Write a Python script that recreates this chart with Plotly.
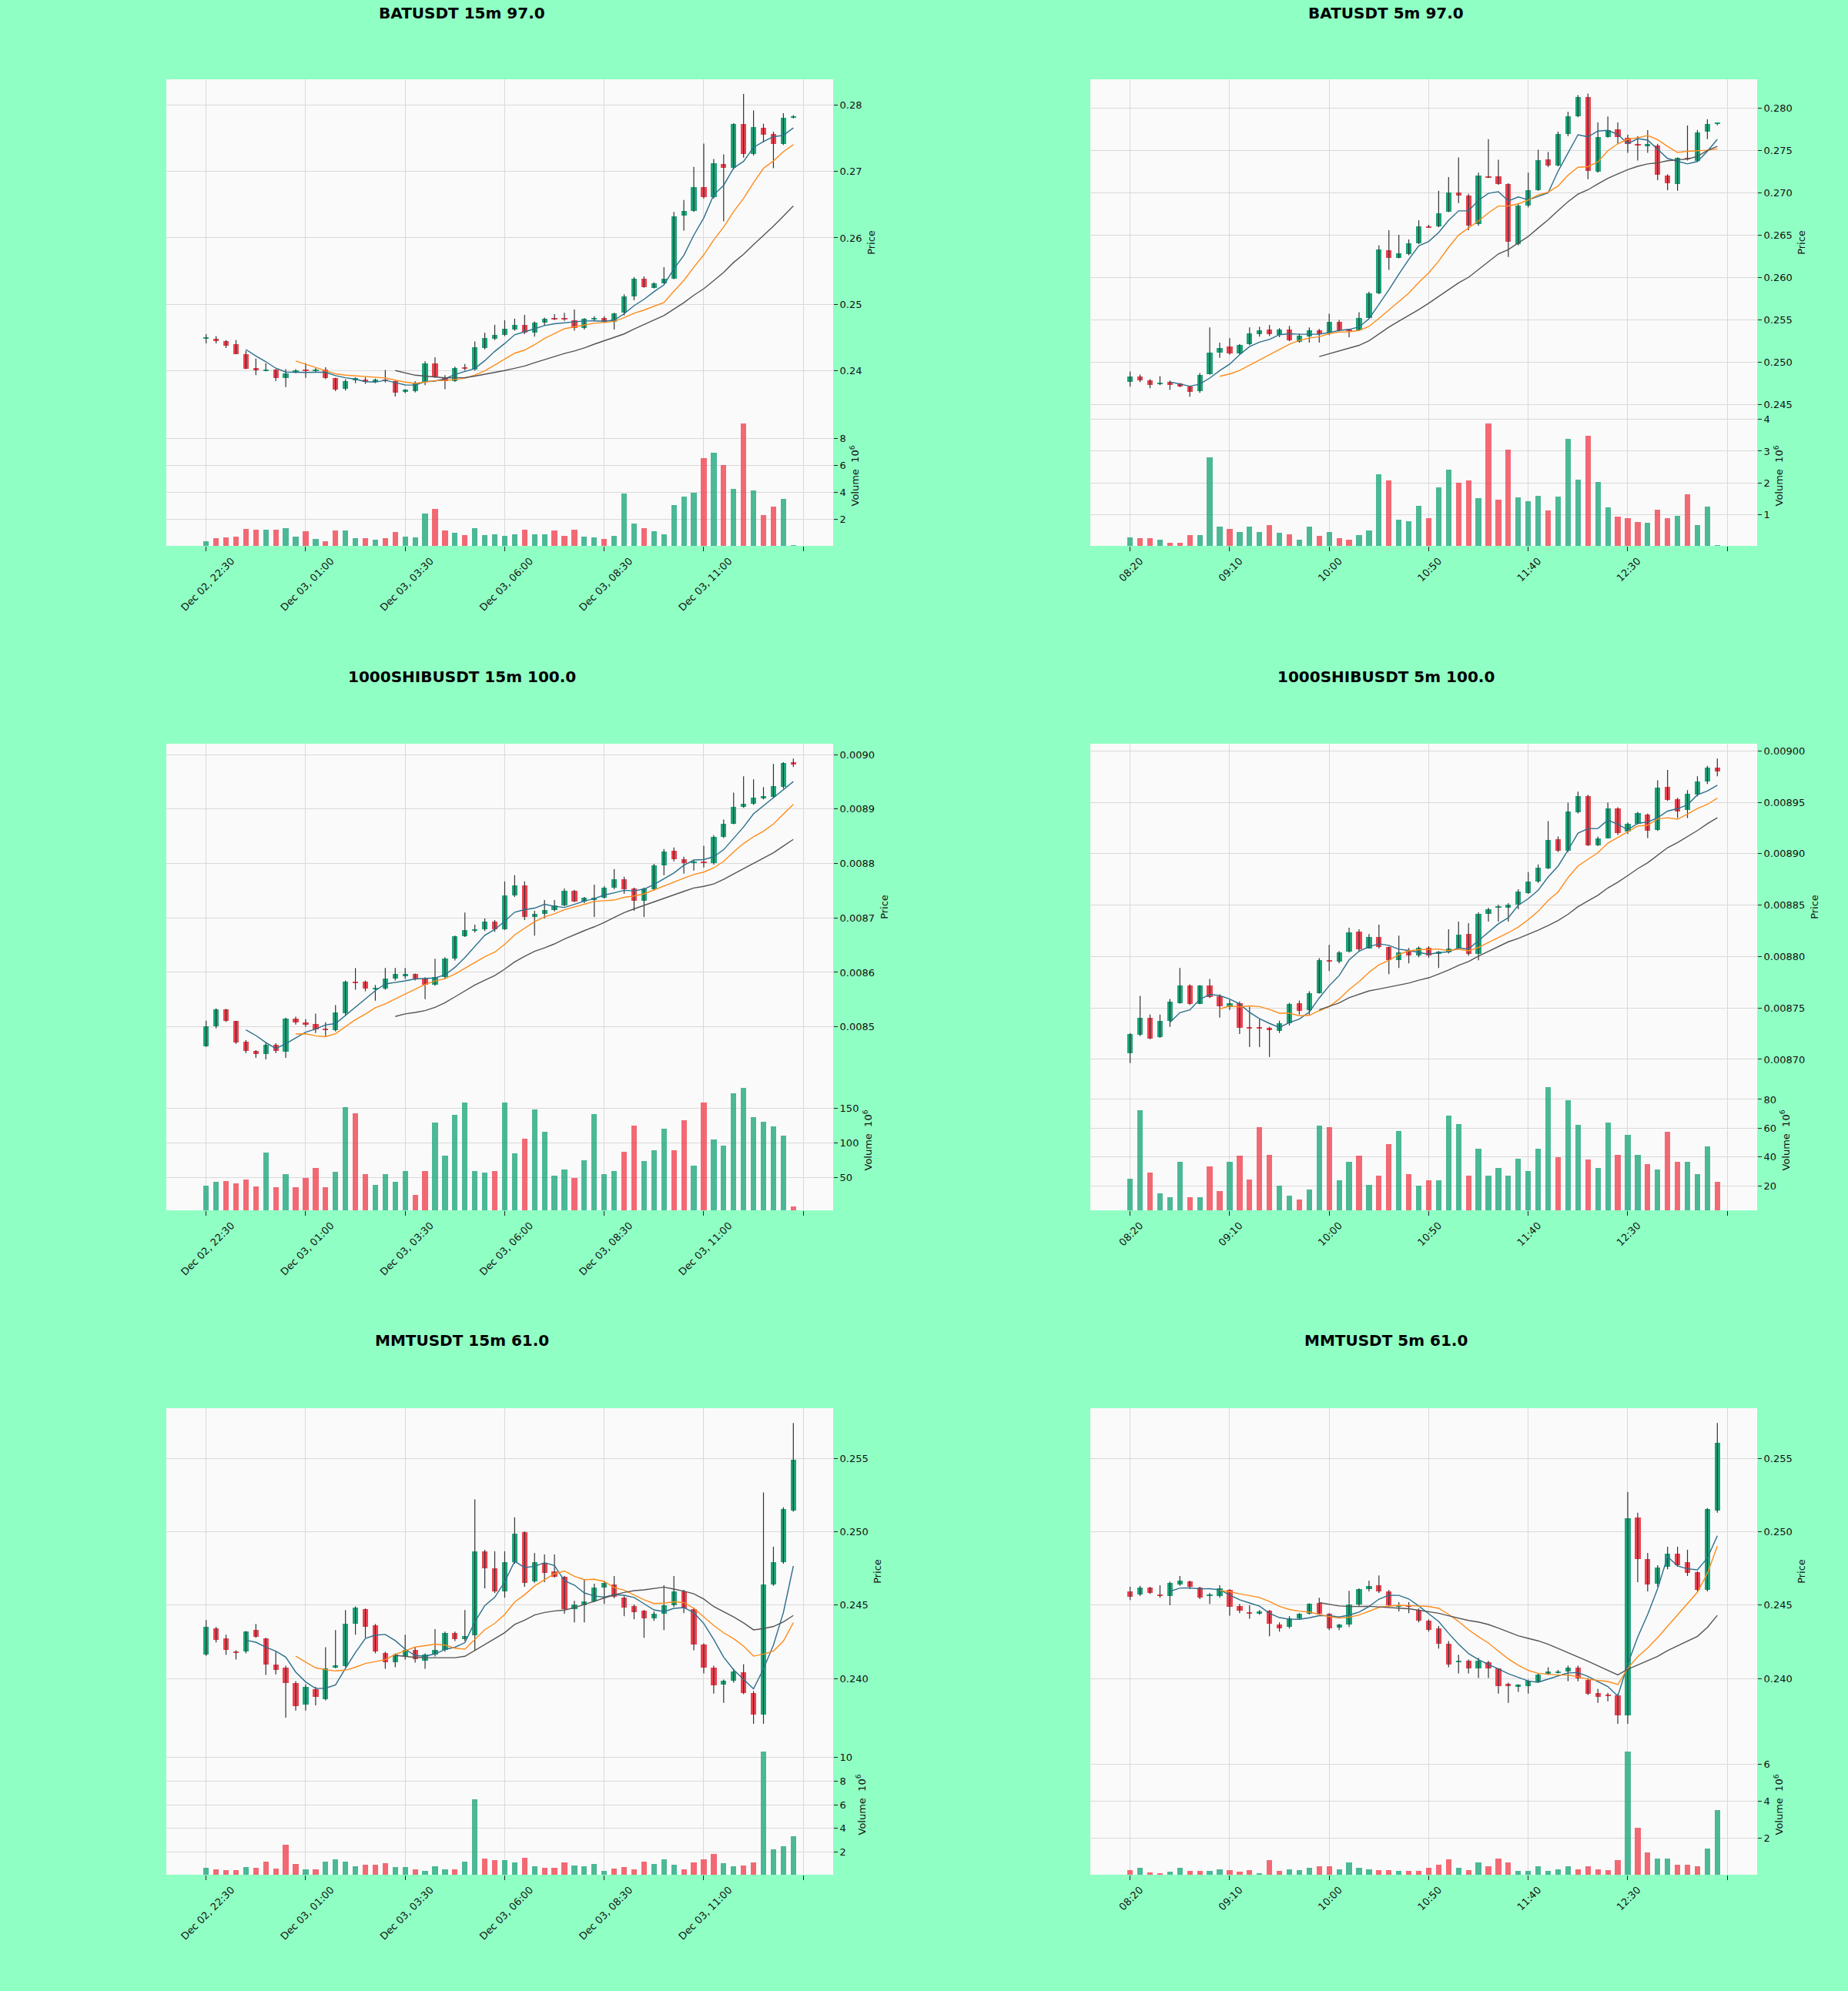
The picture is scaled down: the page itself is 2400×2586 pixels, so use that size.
import pandas as pd
import plotly.graph_objects as go

# ---------------- data (60 candles per chart) ----------------
labels_15m = ["Dec 02, 22:30", "Dec 03, 01:00", "Dec 03, 03:30", "Dec 03, 06:00",
              "Dec 03, 08:30", "Dec 03, 11:00"]
labels_5m = ["08:20", "09:10", "10:00", "10:50", "11:40", "12:30"]
label_pos = [0, 10, 20, 30, 40, 50]
end_tick = [60]  # unlabeled last tick

# BATUSDT 15m
bat15_open = [0.2448, 0.2448, 0.2444, 0.2440, 0.2425, 0.2404, 0.2400, 0.2401, 0.2389, 0.2399,
              0.2401, 0.2400, 0.2402, 0.2389, 0.2372, 0.2385, 0.2387, 0.2383, 0.2386, 0.2384,
              0.2369, 0.2369, 0.2383, 0.2411, 0.2390, 0.2384, 0.2405, 0.2401, 0.2434, 0.2448,
              0.2454, 0.2462, 0.2469, 0.2457, 0.2472, 0.2479, 0.2478, 0.2476, 0.2464, 0.2478,
              0.2479, 0.2474, 0.2487, 0.2512, 0.2539, 0.2525, 0.2532, 0.2539, 0.2634, 0.2641,
              0.2677, 0.2661, 0.2711, 0.2705, 0.2772, 0.2726, 0.2766, 0.2757, 0.2742, 0.2782]
bat15_close = [0.24485, 0.2444, 0.2438, 0.2425, 0.2403, 0.2400, 0.2401, 0.2389, 0.2396, 0.2400,
               0.2400, 0.2402, 0.2389, 0.2371, 0.2384, 0.2389, 0.2383, 0.2386, 0.2385, 0.2367,
               0.2371, 0.2382, 0.2411, 0.2390, 0.2384, 0.2404, 0.2403, 0.2435, 0.2449, 0.2454,
               0.2463, 0.2469, 0.2457, 0.2472, 0.2478, 0.2477, 0.2477, 0.2464, 0.2478, 0.24785,
               0.2474, 0.2486, 0.2512, 0.2539, 0.2526, 0.2531, 0.2538, 0.2633, 0.2641, 0.2677,
               0.2661, 0.2712, 0.2705, 0.2772, 0.2726, 0.2767, 0.2756, 0.2742, 0.2781, 0.2783]
bat15_high = [0.2455, 0.2452, 0.2446, 0.2446, 0.2430, 0.2418, 0.2411, 0.2402, 0.2402, 0.2402,
              0.2411, 0.2404, 0.2405, 0.2389, 0.2387, 0.2390, 0.2390, 0.2388, 0.2401, 0.2385,
              0.2372, 0.2384, 0.2414, 0.2420, 0.2393, 0.2406, 0.2410, 0.2444, 0.2457, 0.2469,
              0.2476, 0.2478, 0.2484, 0.2474, 0.2480, 0.2485, 0.2487, 0.2492, 0.2479, 0.2482,
              0.2482, 0.2487, 0.2515, 0.2541, 0.2542, 0.2533, 0.2556, 0.2639, 0.2657, 0.2707,
              0.2742, 0.2719, 0.2726, 0.2773, 0.2817, 0.2792, 0.2772, 0.2760, 0.2788, 0.2785]
bat15_low = [0.2441, 0.2441, 0.2434, 0.2425, 0.2402, 0.2393, 0.2399, 0.2384, 0.2375, 0.2396,
             0.2389, 0.2398, 0.2387, 0.2369, 0.2370, 0.2381, 0.2380, 0.2381, 0.2382, 0.2361,
             0.2366, 0.2367, 0.2378, 0.2389, 0.2372, 0.2383, 0.2400, 0.2400, 0.2432, 0.2446,
             0.2452, 0.2460, 0.2455, 0.2451, 0.2468, 0.2476, 0.2475, 0.2460, 0.2462, 0.2475,
             0.2472, 0.2462, 0.2483, 0.2506, 0.2525, 0.2524, 0.2531, 0.2538, 0.2611, 0.2639,
             0.2659, 0.2659, 0.2625, 0.2703, 0.2721, 0.2724, 0.2744, 0.2705, 0.2740, 0.2780]
bat15_vol = [0.36, 0.60, 0.64, 0.70, 1.28, 1.20, 1.20, 1.20, 1.35, 0.70,
             1.10, 0.52, 0.36, 1.16, 1.16, 0.60, 0.60, 0.48, 0.60, 1.05,
             0.70, 0.66, 2.42, 2.76, 1.16, 0.98, 0.82, 1.35, 0.82, 0.89,
             0.75, 0.89, 1.20, 0.89, 0.89, 1.16, 0.75, 1.20, 0.70, 0.66,
             0.55, 0.75, 3.90, 1.69, 1.35, 1.12, 0.89, 3.03, 3.67, 3.95,
             6.52, 6.90, 6.00, 4.24, 9.10, 4.13, 2.30, 2.94, 3.49, 0.07]

# BATUSDT 5m
bat5_open = [0.24775, 0.24839, 0.24786, 0.24750, 0.24768, 0.24750, 0.24714, 0.24660, 0.24864, 0.25118,
             0.25190, 0.25108, 0.25215, 0.25333, 0.25387, 0.25322, 0.25387, 0.25244, 0.25305, 0.25383,
             0.25340, 0.25483, 0.25387, 0.25383, 0.25526, 0.25813, 0.26325, 0.26235, 0.26278, 0.26407,
             0.26604, 0.26604, 0.26779, 0.27004, 0.26969, 0.26629, 0.27194, 0.27194, 0.27101, 0.26396,
             0.26844, 0.27030, 0.27391, 0.27316, 0.27695, 0.27899, 0.28125, 0.27244, 0.27659, 0.27749,
             0.27648, 0.27577, 0.27549, 0.27559, 0.27201, 0.27101, 0.27409, 0.27373, 0.27720, 0.27810]
bat5_close = [0.24839, 0.24786, 0.24732, 0.24764, 0.24732, 0.24721, 0.24653, 0.24857, 0.25118, 0.25168,
              0.25108, 0.25204, 0.25340, 0.25376, 0.25330, 0.25387, 0.25258, 0.25312, 0.25383, 0.25330,
              0.25483, 0.25376, 0.25376, 0.25526, 0.25813, 0.26332, 0.26235, 0.26289, 0.26407, 0.26604,
              0.26593, 0.26761, 0.27004, 0.26969, 0.26611, 0.27201, 0.27180, 0.27101, 0.26421, 0.26844,
              0.27033, 0.27380, 0.27316, 0.27695, 0.27899, 0.28125, 0.27255, 0.27659, 0.27738, 0.27659,
              0.27577, 0.27552, 0.27570, 0.27208, 0.27112, 0.27409, 0.27398, 0.27710, 0.27810, 0.27814]
bat5_high = [0.24893, 0.24857, 0.24803, 0.24839, 0.24786, 0.24757, 0.24725, 0.24875, 0.25412, 0.25233,
             0.25287, 0.25215, 0.25412, 0.25419, 0.25441, 0.25405, 0.25430, 0.25340, 0.25412, 0.25394,
             0.25573, 0.25501, 0.25394, 0.25591, 0.25834, 0.26378, 0.26557, 0.26503, 0.26450, 0.26675,
             0.26622, 0.27022, 0.27183, 0.27416, 0.26987, 0.27237, 0.27631, 0.27387, 0.27112, 0.26879,
             0.27237, 0.27505, 0.27480, 0.27720, 0.27953, 0.28150, 0.28168, 0.27828, 0.27899, 0.27828,
             0.27684, 0.27666, 0.27738, 0.27577, 0.27219, 0.27416, 0.27792, 0.27738, 0.27864, 0.27817]
bat5_low = [0.24714, 0.24768, 0.24696, 0.24732, 0.24678, 0.24710, 0.24596, 0.24642, 0.24857, 0.25054,
            0.25090, 0.25097, 0.25204, 0.25305, 0.25312, 0.25298, 0.25251, 0.25233, 0.25233, 0.25233,
            0.25322, 0.25365, 0.25298, 0.25369, 0.25519, 0.25806, 0.26092, 0.26228, 0.26264, 0.26396,
            0.26586, 0.26593, 0.26772, 0.26879, 0.26557, 0.26611, 0.27173, 0.27094, 0.26242, 0.26378,
            0.26826, 0.27022, 0.27302, 0.27309, 0.27666, 0.27889, 0.27158, 0.27237, 0.27648, 0.27577,
            0.27469, 0.27380, 0.27469, 0.27147, 0.27030, 0.27022, 0.27380, 0.27362, 0.27631, 0.27795]
bat5_vol = [0.28, 0.25, 0.25, 0.20, 0.12, 0.12, 0.35, 0.35, 2.80, 0.63,
            0.54, 0.46, 0.63, 0.46, 0.66, 0.42, 0.37, 0.20, 0.62, 0.32,
            0.46, 0.25, 0.20, 0.35, 0.49, 2.27, 2.08, 0.85, 0.78, 1.28,
            0.88, 1.87, 2.41, 2.00, 2.08, 1.53, 3.88, 1.48, 3.04, 1.55,
            1.42, 1.60, 1.12, 1.57, 3.38, 2.10, 3.49, 2.03, 1.24, 0.94,
            0.88, 0.76, 0.75, 1.16, 0.90, 0.95, 1.64, 0.68, 1.26, 0.05]

# 1000SHIBUSDT 15m
shib15_open = [0.0084647, 0.0085017, 0.0085324, 0.0085102, 0.0084727, 0.0084556, 0.0084505, 0.0084676, 0.0084550, 0.0085153,
               0.0085085, 0.0085056, 0.0084960, 0.0084943, 0.0085256, 0.0085835, 0.0085835, 0.0085700, 0.0085709, 0.0085880,
               0.0085926, 0.0085966, 0.0085880, 0.0085767, 0.0085909, 0.0086250, 0.0086659, 0.0086760, 0.0086790, 0.0086932,
               0.0086790, 0.0087415, 0.0087602, 0.0087017, 0.0087074, 0.0087142, 0.0087233, 0.0087500, 0.0087300, 0.0087335,
               0.0087369, 0.0087557, 0.0087710, 0.0087540, 0.0087312, 0.0087528, 0.0087971, 0.0088238, 0.0088085, 0.0088020,
               0.0088015, 0.0088010, 0.0088483, 0.0088733, 0.0089034, 0.0089090, 0.0089209, 0.0089222, 0.0089403, 0.0089858]
shib15_close = [0.0085017, 0.0085324, 0.0085102, 0.0084716, 0.0084556, 0.0084505, 0.0084676, 0.0084556, 0.0085153, 0.0085085,
                0.0085040, 0.0084960, 0.0084943, 0.0085267, 0.0085835, 0.0085812, 0.0085698, 0.0085710, 0.0085880, 0.0085966,
                0.0085966, 0.0085880, 0.0085767, 0.0085909, 0.0086250, 0.0086659, 0.0086772, 0.0086790, 0.0086932, 0.0086790,
                0.0087415, 0.0087602, 0.0087017, 0.0087074, 0.0087142, 0.0087233, 0.0087500, 0.0087300, 0.0087369, 0.0087375,
                0.0087557, 0.0087710, 0.0087528, 0.0087312, 0.0087540, 0.0087971, 0.0088221, 0.0088085, 0.0088011, 0.0088030,
                0.0088010, 0.0088483, 0.0088733, 0.0089034, 0.0089090, 0.0089216, 0.0089233, 0.0089415, 0.0089846, 0.0089812]
shib15_high = [0.0085113, 0.0085340, 0.0085330, 0.0085110, 0.0084755, 0.0084570, 0.0084716, 0.0084698, 0.0085170, 0.0085187,
               0.0085140, 0.0085244, 0.0085085, 0.0085397, 0.0085850, 0.0086079, 0.0085850, 0.0085770, 0.0086080, 0.0086080,
               0.0086080, 0.0085980, 0.0085910, 0.0086250, 0.0086278, 0.0086676, 0.0087100, 0.0086875, 0.0086989, 0.0086960,
               0.0087670, 0.0087784, 0.0087670, 0.0087130, 0.0087330, 0.0087330, 0.0087540, 0.0087517, 0.0087386, 0.0087613,
               0.0087585, 0.0087898, 0.0087755, 0.0087557, 0.0087557, 0.0087994, 0.0088267, 0.0088295, 0.0088125, 0.0088068,
               0.0088324, 0.0088520, 0.0088807, 0.0089301, 0.0089602, 0.0089545, 0.0089403, 0.0089829, 0.0089858, 0.0089926]
shib15_low = [0.0084630, 0.0084970, 0.0085090, 0.0084687, 0.0084517, 0.0084430, 0.0084403, 0.0084517, 0.0084430, 0.0085040,
              0.0085000, 0.0084886, 0.0084830, 0.0084915, 0.0085200, 0.0085682, 0.0085653, 0.0085480, 0.0085680, 0.0085852,
              0.0085880, 0.0085850, 0.0085510, 0.0085755, 0.0085880, 0.0086220, 0.0086650, 0.0086733, 0.0086760, 0.0086744,
              0.0086778, 0.0087386, 0.0086960, 0.0086676, 0.0086989, 0.0087119, 0.0087216, 0.0087290, 0.0087273, 0.0087017,
              0.0087358, 0.0087528, 0.0087443, 0.0087130, 0.0087017, 0.0087500, 0.0087784, 0.0088039, 0.0087812, 0.0087870,
              0.0087926, 0.0087980, 0.0088466, 0.0088721, 0.0089023, 0.0089074, 0.0089176, 0.0089204, 0.0089375, 0.0089773]
shib15_vol = [39, 44, 45, 42, 47, 37, 86, 36, 55, 36,
              49, 64, 36, 58, 152, 143, 55, 40, 55, 44,
              60, 25, 60, 129, 82, 140, 158, 60, 57, 60,
              158, 85, 106, 148, 116, 53, 62, 49, 75, 142,
              55, 60, 87, 125, 74, 89, 121, 89, 133, 67,
              158, 105, 96, 172, 179, 137, 131, 124, 111, 9]

# 1000SHIBUSDT 5m
shib5_open = [0.0087060, 0.0087240, 0.0087406, 0.0087220, 0.0087376, 0.0087548, 0.0087716, 0.0087542, 0.0087716, 0.0087617,
              0.0087510, 0.0087550, 0.0087310, 0.0087307, 0.0087307, 0.0087277, 0.0087355, 0.0087548, 0.0087481, 0.0087647,
              0.0087969, 0.0087948, 0.0088047, 0.0088240, 0.0088077, 0.0088189, 0.0088090, 0.0087963, 0.0088062, 0.0088008,
              0.0088083, 0.0088029, 0.0088038, 0.0088077, 0.0088219, 0.0088023, 0.0088414, 0.0088481, 0.0088475, 0.0088505,
              0.0088619, 0.0088730, 0.0088860, 0.0089142, 0.0089031, 0.0089401, 0.0089558, 0.0089082, 0.0089152, 0.0089437,
              0.0089212, 0.0089293, 0.0089383, 0.0089227, 0.0089648, 0.0089528, 0.0089422, 0.0089573, 0.0089702, 0.0089835]
shib5_close = [0.0087247, 0.0087406, 0.0087205, 0.0087376, 0.0087563, 0.0087722, 0.0087542, 0.0087716, 0.0087608, 0.0087518,
               0.0087548, 0.0087307, 0.0087304, 0.0087304, 0.0087286, 0.0087355, 0.0087542, 0.0087472, 0.0087647, 0.0087969,
               0.0087948, 0.0088038, 0.0088234, 0.0088068, 0.0088189, 0.0088090, 0.0087963, 0.0088044, 0.0088008, 0.0088083,
               0.0088008, 0.0088047, 0.0088077, 0.0088209, 0.0088023, 0.0088414, 0.0088459, 0.0088487, 0.0088505, 0.0088631,
               0.0088730, 0.0088866, 0.0089137, 0.0089031, 0.0089407, 0.0089558, 0.0089082, 0.0089152, 0.0089437, 0.0089197,
               0.0089293, 0.0089392, 0.0089221, 0.0089642, 0.0089522, 0.0089413, 0.0089579, 0.0089702, 0.0089835, 0.0089798]
shib5_high = [0.0087256, 0.0087617, 0.0087436, 0.0087436, 0.0087587, 0.0087888, 0.0087730, 0.0087722, 0.0087782, 0.0087632,
              0.0087580, 0.0087563, 0.0087511, 0.0087390, 0.0087316, 0.0087376, 0.0087550, 0.0087572, 0.0087662, 0.0087984,
              0.0088113, 0.0088053, 0.0088279, 0.0088264, 0.0088219, 0.0088309, 0.0088098, 0.0088204, 0.0088083, 0.0088098,
              0.0088100, 0.0088053, 0.0088264, 0.0088339, 0.0088324, 0.0088429, 0.0088475, 0.0088505, 0.0088520, 0.0088655,
              0.0088820, 0.0088896, 0.0089317, 0.0089167, 0.0089497, 0.0089603, 0.0089573, 0.0089167, 0.0089497, 0.0089452,
              0.0089303, 0.0089407, 0.0089392, 0.0089714, 0.0089814, 0.0089543, 0.0089618, 0.0089753, 0.0089853, 0.0089925]
shib5_low = [0.0086964, 0.0087226, 0.0087196, 0.0087210, 0.0087316, 0.0087542, 0.0087530, 0.0087536, 0.0087596, 0.0087406,
             0.0087480, 0.0087247, 0.0087120, 0.0087120, 0.0087024, 0.0087256, 0.0087330, 0.0087436, 0.0087436, 0.0087640,
             0.0087858, 0.0087933, 0.0088038, 0.0088053, 0.0088077, 0.0088077, 0.0087828, 0.0087888, 0.0087933, 0.0087993,
             0.0087990, 0.0087888, 0.0088030, 0.0088068, 0.0088008, 0.0087963, 0.0088339, 0.0088339, 0.0088340, 0.0088460,
             0.0088610, 0.0088716, 0.0088851, 0.0089016, 0.0089016, 0.0089392, 0.0089076, 0.0089076, 0.0089152, 0.0089182,
             0.0089191, 0.0089287, 0.0089152, 0.0089221, 0.0089513, 0.0089347, 0.0089347, 0.0089558, 0.0089678, 0.0089753]
shib5_vol = [24.8, 72.5, 29.0, 14.5, 12.3, 36.8, 12.3, 12.3, 33.5, 16.6,
             36.8, 40.7, 24.3, 60.9, 41.6, 19.9, 13.1, 10.5, 17.5, 62.0,
             60.5, 23.7, 36.8, 40.7, 20.8, 26.9, 48.9, 58.3, 28.0, 19.9,
             23.7, 23.7, 68.6, 63.1, 26.9, 45.6, 26.9, 32.4, 26.9, 39.0,
             30.2, 45.6, 88.3, 40.1, 79.5, 62.4, 38.3, 32.4, 63.7, 41.6,
             55.4, 41.6, 35.3, 31.3, 57.6, 36.8, 36.8, 28.0, 47.3, 22.6]

# MMTUSDT 15m
mmt15_open = [0.24162, 0.24341, 0.24273, 0.24187, 0.24183, 0.24330, 0.24273, 0.24098, 0.24077, 0.23972,
              0.23824, 0.23930, 0.23860, 0.24075, 0.24084, 0.24372, 0.24473, 0.24362, 0.24172, 0.24109,
              0.24155, 0.24197, 0.24120, 0.24162, 0.24193, 0.24309, 0.24267, 0.24294, 0.24868, 0.24752,
              0.24594, 0.24794, 0.25000, 0.24661, 0.24787, 0.24731, 0.24695, 0.24471, 0.24499, 0.24526,
              0.24619, 0.24640, 0.24551, 0.24492, 0.24461, 0.24408, 0.24442, 0.24499, 0.24594, 0.24471,
              0.24231, 0.24077, 0.23961, 0.23987, 0.24042, 0.23903, 0.23755, 0.24640, 0.24794, 0.25146]
mmt15_close = [0.24351, 0.24263, 0.24197, 0.24176, 0.24320, 0.24282, 0.24098, 0.24060, 0.23972, 0.23810,
               0.23945, 0.23873, 0.24071, 0.24088, 0.24372, 0.24484, 0.24351, 0.24187, 0.24109, 0.24162,
               0.24193, 0.24134, 0.24162, 0.24193, 0.24309, 0.24271, 0.24288, 0.24868, 0.24752, 0.24594,
               0.24794, 0.24990, 0.24653, 0.24794, 0.24720, 0.24695, 0.24471, 0.24505, 0.24526, 0.24619,
               0.24653, 0.24556, 0.24484, 0.24450, 0.24408, 0.24442, 0.24499, 0.24594, 0.24478, 0.24231,
               0.24077, 0.23955, 0.23987, 0.24050, 0.23903, 0.23755, 0.24640, 0.24794, 0.25158, 0.25489]
mmt15_high = [0.24398, 0.24351, 0.24299, 0.24193, 0.24324, 0.24372, 0.24278, 0.24183, 0.24088, 0.23983,
              0.23961, 0.23945, 0.24214, 0.24330, 0.24467, 0.24492, 0.24478, 0.24372, 0.24183, 0.24172,
              0.24299, 0.24214, 0.24172, 0.24337, 0.24320, 0.24320, 0.24467, 0.25221, 0.24878, 0.24868,
              0.24868, 0.25099, 0.25004, 0.24857, 0.24846, 0.24846, 0.24699, 0.24530, 0.24678, 0.24646,
              0.24667, 0.24699, 0.24562, 0.24505, 0.24467, 0.24457, 0.24636, 0.24699, 0.24604, 0.24478,
              0.24240, 0.24088, 0.23993, 0.24067, 0.24098, 0.23915, 0.25268, 0.24899, 0.25167, 0.25742]
mmt15_low = [0.24155, 0.24246, 0.24162, 0.24130, 0.24172, 0.24278, 0.24025, 0.24029, 0.23734, 0.23782,
             0.23782, 0.23818, 0.23852, 0.24071, 0.24077, 0.24299, 0.24278, 0.24172, 0.24067, 0.24077,
             0.24130, 0.24109, 0.24067, 0.24151, 0.24183, 0.24256, 0.24256, 0.24193, 0.24615, 0.24583,
             0.24551, 0.24783, 0.24625, 0.24653, 0.24657, 0.24689, 0.24442, 0.24383, 0.24383, 0.24520,
             0.24509, 0.24547, 0.24425, 0.24404, 0.24278, 0.24393, 0.24330, 0.24488, 0.24446, 0.24193,
             0.24035, 0.23898, 0.23835, 0.23972, 0.23894, 0.23692, 0.23692, 0.24632, 0.24783, 0.25137]
mmt15_vol = [0.67, 0.53, 0.48, 0.48, 0.75, 0.67, 1.20, 0.61, 2.61, 0.99,
             0.53, 0.53, 1.20, 1.41, 1.20, 0.80, 0.93, 0.93, 1.07, 0.75,
             0.75, 0.53, 0.40, 0.80, 0.53, 0.53, 1.20, 6.45, 1.47, 1.33,
             1.33, 1.12, 1.52, 0.80, 0.67, 0.67, 1.12, 0.85, 0.80, 1.01,
             0.40, 0.59, 0.75, 0.53, 1.20, 1.01, 1.39, 0.93, 0.53, 1.12,
             1.41, 1.87, 1.07, 0.80, 0.85, 1.15, 10.48, 2.21, 2.48, 3.33]

# MMTUSDT 5m
mmt5_open = [0.24594, 0.24573, 0.24619, 0.24573, 0.24562, 0.24640, 0.24661, 0.24619, 0.24564, 0.24562,
             0.24604, 0.24492, 0.24455, 0.24444, 0.24463, 0.24366, 0.24351, 0.24408, 0.24442, 0.24513,
             0.24442, 0.24345, 0.24366, 0.24505, 0.24610, 0.24636, 0.24594, 0.24490, 0.24499, 0.24467,
             0.24393, 0.24341, 0.24235, 0.24109, 0.24120, 0.24071, 0.24109, 0.24067, 0.23966, 0.23945,
             0.23951, 0.23982, 0.24035, 0.24042, 0.24046, 0.24077, 0.23993, 0.23903, 0.23888, 0.23888,
             0.23751, 0.25099, 0.24815, 0.24646, 0.24762, 0.24851, 0.24794, 0.24724, 0.24604, 0.25146]
mmt5_close = [0.24556, 0.24619, 0.24583, 0.24562, 0.24653, 0.24667, 0.24625, 0.24551, 0.24567, 0.24615,
              0.24488, 0.24463, 0.24444, 0.24457, 0.24372, 0.24341, 0.24408, 0.24442, 0.24509, 0.24442,
              0.24341, 0.24366, 0.24505, 0.24610, 0.24632, 0.24594, 0.24499, 0.24501, 0.24488, 0.24393,
              0.24330, 0.24235, 0.24098, 0.24120, 0.24071, 0.24120, 0.24071, 0.23951, 0.23951, 0.23958,
              0.23987, 0.24029, 0.24050, 0.24050, 0.24077, 0.23999, 0.23898, 0.23873, 0.23882, 0.23751,
              0.25095, 0.24815, 0.24640, 0.24758, 0.24851, 0.24773, 0.24720, 0.24604, 0.25158, 0.25609]
mmt5_high = [0.24625, 0.24632, 0.24625, 0.24636, 0.24661, 0.24699, 0.24667, 0.24625, 0.24583, 0.24636,
             0.24610, 0.24509, 0.24499, 0.24467, 0.24467, 0.24383, 0.24425, 0.24446, 0.24513, 0.24551,
             0.24446, 0.24372, 0.24598, 0.24615, 0.24667, 0.24703, 0.24604, 0.24520, 0.24520, 0.24478,
             0.24404, 0.24358, 0.24256, 0.24162, 0.24130, 0.24141, 0.24120, 0.24071, 0.23972, 0.23961,
             0.23993, 0.24035, 0.24077, 0.24058, 0.24088, 0.24088, 0.24004, 0.23930, 0.23903, 0.23898,
             0.25272, 0.25131, 0.24857, 0.24773, 0.24899, 0.24899, 0.24878, 0.24731, 0.25162, 0.25742]
mmt5_low = [0.24535, 0.24562, 0.24577, 0.24551, 0.24499, 0.24632, 0.24610, 0.24541, 0.24509, 0.24551,
            0.24429, 0.24446, 0.24408, 0.24435, 0.24288, 0.24320, 0.24341, 0.24400, 0.24436, 0.24436,
            0.24330, 0.24330, 0.24351, 0.24492, 0.24594, 0.24583, 0.24488, 0.24457, 0.24446, 0.24383,
            0.24320, 0.24204, 0.24077, 0.24035, 0.24035, 0.24004, 0.24004, 0.23898, 0.23835, 0.23909,
            0.23898, 0.23972, 0.24025, 0.24035, 0.23982, 0.23982, 0.23888, 0.23835, 0.23845, 0.23692,
            0.23692, 0.24657, 0.24594, 0.24625, 0.24745, 0.24762, 0.24699, 0.24594, 0.24594, 0.25131]
mmt5_vol = [0.31, 0.43, 0.18, 0.14, 0.21, 0.40, 0.23, 0.23, 0.26, 0.35,
            0.31, 0.21, 0.31, 0.13, 0.81, 0.23, 0.35, 0.31, 0.40, 0.49,
            0.49, 0.35, 0.72, 0.40, 0.35, 0.31, 0.31, 0.23, 0.23, 0.23,
            0.43, 0.60, 0.89, 0.43, 0.31, 0.72, 0.49, 0.91, 0.72, 0.26,
            0.23, 0.49, 0.23, 0.35, 0.49, 0.35, 0.49, 0.35, 0.31, 0.81,
            6.70, 2.56, 1.23, 0.91, 0.91, 0.57, 0.60, 0.49, 1.46, 3.53]

# ---------------- chart setup ----------------
panels = [
    dict(title="BATUSDT 15m 97.0", o=bat15_open, h=bat15_high, l=bat15_low, c=bat15_close, v=bat15_vol,
         labels=labels_15m, shift=33, prange=[0.2347, 0.2839], pticks=[0.24, 0.25, 0.26, 0.27, 0.28],
         pfmt=".2f", vrange=[0.02, 10.4], vticks=[2, 4, 6, 8]),
    dict(title="BATUSDT 5m 97.0", o=bat5_open, h=bat5_high, l=bat5_low, c=bat5_close, v=bat5_vol,
         labels=labels_5m, shift=13, prange=[0.2449, 0.28336],
         pticks=[0.245, 0.250, 0.255, 0.260, 0.265, 0.270, 0.275, 0.280], pfmt=".3f",
         vrange=[0.015, 4.43], vticks=[1, 2, 3, 4]),
    dict(title="1000SHIBUSDT 15m 100.0", o=shib15_open, h=shib15_high, l=shib15_low, c=shib15_close,
         v=shib15_vol, labels=labels_15m, shift=33, prange=[0.0084204, 0.0090199],
         pticks=[0.0085, 0.0086, 0.0087, 0.0088, 0.0089, 0.0090], pfmt=".4f",
         vrange=[3, 204.7], vticks=[50, 100, 150]),
    dict(title="1000SHIBUSDT 5m 100.0", o=shib5_open, h=shib5_high, l=shib5_low, c=shib5_close,
         v=shib5_vol, labels=labels_5m, shift=13, prange=[0.0086895, 0.0090069],
         pticks=[0.00870, 0.00875, 0.00880, 0.00885, 0.00890, 0.00895, 0.00900], pfmt=".5f",
         vrange=[3, 100.3], vticks=[20, 40, 60, 80]),
    dict(title="MMTUSDT 15m 61.0", o=mmt15_open, h=mmt15_high, l=mmt15_low, c=mmt15_close, v=mmt15_vol,
         labels=labels_15m, shift=33, prange=[0.23618, 0.25843], pticks=[0.240, 0.245, 0.250, 0.255],
         pfmt=".3f", vrange=[0.1, 11.9], vticks=[2, 4, 6, 8, 10]),
    dict(title="MMTUSDT 5m 61.0", o=mmt5_open, h=mmt5_high, l=mmt5_low, c=mmt5_close, v=mmt5_vol,
         labels=labels_5m, shift=13, prange=[0.23618, 0.25843], pticks=[0.240, 0.245, 0.250, 0.255],
         pfmt=".3f", vrange=[0.04, 7.6], vticks=[2, 4, 6]),
]

W, H = 2400, 2586
UP, DOWN = "#1aa57a", "#f0404e"
UP_V, DOWN_V = "rgba(26,165,122,0.78)", "rgba(240,64,78,0.78)"
MA_COLORS = {5: "#2b6f8c", 10: "#ff8c1a", 20: "#555555"}
GRID = "#d9d9d9"
FONT = "DejaVu Sans"

fig = go.Figure()

for k, p in enumerate(panels):
    row, col = divmod(k, 2)
    left = [216, 1416][col]
    top = 103 + 863 * row
    xd = [left / W, (left + 866) / W]
    pd_dom = [1 - (top + 424) / H, 1 - top / H]
    vd_dom = [1 - (top + 606) / H, 1 - (top + 424) / H]
    px, py = "x%d" % (2 * k + 1), "y%d" % (2 * k + 1)
    vx, vy = "x%d" % (2 * k + 2), "y%d" % (2 * k + 2)

    idx = list(range(len(p["c"])))
    up = [c >= o for o, c in zip(p["o"], p["c"])]
    span = p["prange"][1] - p["prange"][0]

    # wicks
    wx, wy = [], []
    for i in idx:
        wx += [i, i, None]
        wy += [p["l"][i], p["h"][i], None]
    fig.add_trace(go.Scatter(x=wx, y=wy, mode="lines", line=dict(color="#333333", width=1.2),
                             xaxis=px, yaxis=py, showlegend=False, hoverinfo="skip"))
    # bodies
    base = [min(o, c) for o, c in zip(p["o"], p["c"])]
    height = [max(abs(c - o), span * 0.0025) for o, c in zip(p["o"], p["c"])]
    colors = [UP if u else DOWN for u in up]
    fig.add_trace(go.Bar(x=idx, y=height, base=base, width=0.56, marker=dict(color=colors, line=dict(width=0)),
                         xaxis=px, yaxis=py, showlegend=False))
    # moving averages
    closes = pd.Series(p["c"])
    for n, colr in MA_COLORS.items():
        fig.add_trace(go.Scatter(x=idx, y=closes.rolling(n).mean(), mode="lines",
                                 line=dict(color=colr, width=1.4), xaxis=px, yaxis=py,
                                 showlegend=False))
    # volume
    fig.add_trace(go.Bar(x=idx, y=p["v"], width=0.56,
                         marker=dict(color=[UP_V if u else DOWN_V for u in up], line=dict(width=0)),
                         xaxis=vx, yaxis=vy, showlegend=False))

    common_x = dict(range=[-4, 63], tickvals=label_pos, showgrid=True, gridcolor=GRID, gridwidth=1.2,
                    zeroline=False, showline=False, automargin=False)
    fig.layout["xaxis%d" % (2 * k + 1)] = dict(domain=xd, anchor=py, matches=vx, showticklabels=False,
                                               ticks="", minor=dict(tickvals=end_tick, showgrid=True,
                                                                    gridcolor=GRID, gridwidth=1.2, ticks=""),
                                               **common_x)
    fig.layout["xaxis%d" % (2 * k + 2)] = dict(domain=xd, anchor=vy, ticktext=p["labels"], ticks="outside",
                                               ticklen=6, tickcolor="#222", tickangle=-45,
                                               ticklabelshift=p["shift"],
                                               minor=dict(tickvals=end_tick, showgrid=True, gridcolor=GRID,
                                                          gridwidth=1.2, ticks="outside", ticklen=6,
                                                          tickcolor="#222"),
                                               tickfont=dict(size=13, color="#111", family=FONT), **common_x)
    common_y = dict(side="right", showgrid=True, gridcolor=GRID, gridwidth=1.2, zeroline=False,
                    showline=False, ticks="outside", ticklen=5, tickcolor="#222", automargin=False,
                    tickfont=dict(size=13, color="#111", family=FONT))
    fig.layout["yaxis%d" % (2 * k + 1)] = dict(domain=pd_dom, anchor=px, range=p["prange"],
                                               tickvals=p["pticks"], tickformat=p["pfmt"],
                                               title=dict(text="Price", font=dict(size=13, family=FONT, color="#111"),
                                                          standoff=8), **common_y)
    fig.layout["yaxis%d" % (2 * k + 2)] = dict(domain=vd_dom, anchor=vx, range=p["vrange"],
                                               tickvals=p["vticks"],
                                               title=dict(text="Volume  10<sup>6</sup>",
                                                          font=dict(size=13, family=FONT, color="#111"),
                                                          standoff=8), **common_y)

    fig.add_annotation(text=p["title"], xref="paper", yref="paper", x=[0.25, 0.75][col],
                       y=1 - (17 + 862 * row) / H, xanchor="center", yanchor="middle", showarrow=False,
                       font=dict(size=20, family=FONT, color="#000", weight="bold"))

fig.update_layout(width=W, height=H, autosize=False, margin=dict(l=0, r=0, t=0, b=0),
                  paper_bgcolor="#90ffc4", plot_bgcolor="#fafafa", barmode="overlay", bargap=0,
                  font=dict(family=FONT))

fig.write_html("out.html", config={"displayModeBar": False},
               post_script="document.body.style.margin='0';document.body.style.overflow='hidden';")
